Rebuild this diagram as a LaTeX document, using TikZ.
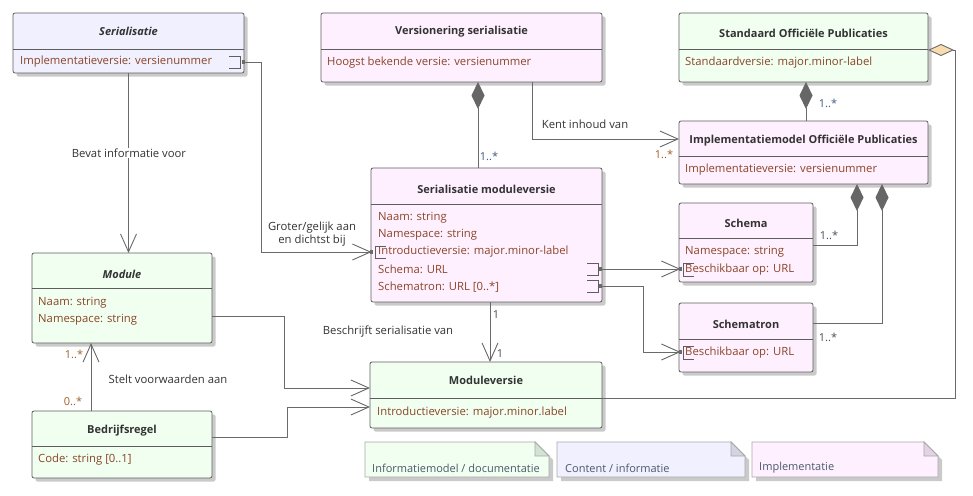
\documentclass[tikz,border=0pt]{standalone}
\usepackage{fontspec}
\setmainfont{Open Sans}
\usetikzlibrary{arrows.meta}
\definecolor{boxline}{HTML}{5E5E5E}
\definecolor{linec}{HTML}{6A6A6A}
\definecolor{shadowc}{HTML}{CACACA}
\definecolor{greenc}{HTML}{F0FFF0}
\definecolor{pinkc}{HTML}{FFF0FF}
\definecolor{lavc}{HTML}{F0F0FF}
\definecolor{titlec}{HTML}{333333}
\definecolor{attrc}{HTML}{8A4527}
\definecolor{lblc}{HTML}{333333}
\definecolor{multb}{HTML}{3D5A80}
\definecolor{multd}{HTML}{44505E}
\definecolor{multo}{HTML}{A0602A}
\definecolor{diamc}{HTML}{666666}
\definecolor{aggfill}{HTML}{F8DCAE}
\definecolor{notel}{HTML}{A8A8A8}
\definecolor{notetext}{HTML}{4A5A6C}
\definecolor{foldg}{HTML}{D3E3D3}
\definecolor{foldl}{HTML}{D3D3E3}
\definecolor{foldp}{HTML}{E3D3E3}
% name, x, y, w, h, divider y, fill
\newcommand\clsbox[7]{%
  \fill[shadowc, rounded corners=2pt] ({#2+3.5},{#3+3.5}) rectangle ++(#4,#5);
  \node[cls, fill=#7, minimum width=#4pt, minimum height=#5pt] (#1) at (#2,#3) {};
  \draw[divl] (#2,#6) -- ({#2+#4},#6);
}
% name, x1, y1, x2, y2, fill, fold fill
\newcommand\notebox[7]{%
  \fill[shadowc] ({#2+4},{#3+4}) -- ({#4-10},{#3+4}) -- ({#4+4},{#3+18}) -- ({#4+4},{#5+4}) -- ({#2+4},{#5+4}) -- cycle;
  \filldraw[fill=#6, draw=notel, line width=0.8pt] (#2,#3) -- ({#4-14},#3) -- (#4,{#3+14}) -- (#4,#5) -- (#2,#5) -- cycle;
  \filldraw[fill=#7, draw=notel, line width=0.8pt] ({#4-14},#3) -- ({#4-14},{#3+14}) -- (#4,{#3+14}) -- cycle;
  \coordinate (#1) at (#2,#3);
}
\begin{document}
\begin{tikzpicture}[x=1pt,y=-1pt,
 cls/.style={draw=boxline, line width=0.8pt, rounded corners=2pt, inner sep=0pt, outer sep=0pt, anchor=north west},
 divl/.style={draw=boxline, line width=0.8pt},
 ttl/.style={font=\fontsize{11}{13}\selectfont\bfseries, text=titlec, inner sep=0pt},
 attr/.style={font=\fontsize{11.3}{13}\selectfont, text=attrc, anchor=west, inner sep=0pt},
 lbl/.style={font=\fontsize{11.3}{13}\selectfont, text=lblc, inner sep=1pt},
 mult/.style={font=\fontsize{11}{13}\selectfont, inner sep=0pt},
 conn/.style={draw=linec, line width=0.9pt},
 openarr/.style={conn, -{Straight Barb[length=18pt, width=16pt]}},
 comp/.style={conn, {Diamond[length=27pt, width=13pt, color=diamc, fill=diamc]}-},
 aggr/.style={conn, {Diamond[length=26pt, width=12pt, fill=aggfill]}-},
 portsq/.style={fill=linec, draw=none, minimum size=3.5pt, inner sep=0pt, outer sep=0pt},
 bracket/.style={draw=boxline, line width=0.7pt},
 ntxt/.style={font=\fontsize{11}{12}\selectfont, text=notetext, anchor=west, inner sep=0pt},
]
\fill[white] (0,0) rectangle (973,495);
\useasboundingbox (0,0) rectangle (973,495);

% ---------- class boxes ----------
\clsbox{ser}{13}{13}{231}{60}{49}{lavc}
\clsbox{vs}{321}{13}{281}{69}{49}{pinkc}
\clsbox{std}{679}{13}{249}{69}{49}{greenc}
\clsbox{impl}{679}{121}{249}{63}{156}{pinkc}
\clsbox{smv}{371}{168}{231}{134}{204}{pinkc}
\clsbox{schema}{679}{203}{134}{79}{238}{pinkc}
\clsbox{schtr}{679}{303}{134}{69}{339}{pinkc}
\clsbox{mod}{32}{253}{180}{90}{288}{greenc}
\clsbox{mv}{370}{362}{232}{66}{398}{greenc}
\clsbox{bed}{32}{411}{180}{67}{446}{greenc}

% ---------- titles ----------
\node[ttl] (tser) at (128.5,31) {\textit{Serialisatie}};
\node[ttl] (tvs) at (461.5,32) {Versionering serialisatie};
\node[ttl] (tstd) at (803.5,33) {Standaard Officiële Publicaties};
\node[ttl] (timpl) at (803.5,141) {Implementatiemodel Officiële Publicaties};
\node[ttl] (tsmv) at (486.5,189) {Serialisatie moduleversie};
\node[ttl] (tschema) at (746,223) {Schema};
\node[ttl] (tschtr) at (746,324) {Schematron};
\node[ttl] (tmod) at (122,274) {\textit{Module}};
\node[ttl] (tmv) at (486,380) {Moduleversie};
\node[ttl] (tbed) at (122,431) {Bedrijfsregel};

% ---------- attributes ----------
\node[attr] (aser) at (20,62) {Implementatieversie: versienummer};
\node[attr] (avs) at (327,63) {Hoogst bekende versie: versienummer};
\node[attr] (astd) at (685,63) {Standaardversie: major.minor-label};
\node[attr] (aimpl) at (685,170) {Implementatieversie: versienummer};
\node[attr] (asmv1) at (378,218) {Naam: string};
\node[attr] (asmv2) at (378,235) {Namespace: string};
\node[attr] (asmv3) at (378,252) {Introductieversie: major.minor-label};
\node[attr] (asmv4) at (378,269) {Schema: URL};
\node[attr] (asmv5) at (378,287) {Schematron: URL [0..*]};
\node[attr] (asch1) at (685,252) {Namespace: string};
\node[attr] (asch2) at (685,270) {Beschikbaar op: URL};
\node[attr] (astr1) at (685,353) {Beschikbaar op: URL};
\node[attr] (amod1) at (38,303) {Naam: string};
\node[attr] (amod2) at (38,320) {Namespace: string};
\node[attr] (amv) at (377,413) {Introductieversie: major.minor.label};
\node[attr] (abed) at (38,460) {Code: string [0..1]};

% ---------- ports ----------
\draw[bracket] (229,56) -- (240,56) -- (240,68) -- (229,68);
\node[portsq] (serP) at (243.5,62) {};
\draw[bracket] (386,246) -- (375,246) -- (375,258) -- (386,258);
\node[portsq] (smvPin) at (371.5,252) {};
\draw[bracket] (587,263) -- (598,263) -- (598,275) -- (587,275);
\node[portsq] (smvPs) at (600.5,269) {};
\draw[bracket] (587,280) -- (598,280) -- (598,292) -- (587,292);
\node[portsq] (smvPt) at (600.5,286) {};
\draw[bracket] (694,263) -- (683,263) -- (683,276) -- (694,276);
\node[portsq] (schP) at (680.5,269) {};
\draw[bracket] (694,346) -- (683,346) -- (683,359) -- (694,359);
\node[portsq] (schtrP) at (680.5,352) {};

% ---------- attachment points ----------
\coordinate (vsD) at (478,82);
\coordinate (vsK) at (532,82);
\coordinate (implK) at (679,139);
\coordinate (stdD) at (806,82);
\coordinate (stdH) at (928,50);
\coordinate (mvH) at (602,398);
\coordinate (implD1) at (857,184);
\coordinate (implD2) at (882,184);
\coordinate (schE) at (813,245);
\coordinate (schtrE) at (813,323);
\coordinate (smvB) at (490,302);
\coordinate (modE) at (212,316);
\coordinate (mvL1) at (370,388);
\coordinate (bedE) at (212,437);
\coordinate (mvL2) at (370,407);
\coordinate (bedT) at (91,411);

% ---------- connectors ----------
\draw[openarr] (ser.south) -- (ser.south |- mod.north);
\draw[openarr] (serP.center) -- ++(18,0) |- (smvPin.center);
\draw[comp] (vsD) -- (vsD |- smv.north);
\draw[openarr] (vsK) |- (implK);
\draw[comp] (stdD) -- (stdD |- impl.north);
\draw[aggr] (stdH) -- ++(27,0) |- (mvH);
\draw[comp] (implD1) |- (schE);
\draw[comp] (implD2) |- (schtrE);
\draw[openarr] (smvPs.center) -- (schP.center);
\draw[openarr] (smvPt.center) -- ++(43,0) |- (schtrP.center);
\draw[openarr] (smvB) -- (smvB |- mv.north);
\draw[openarr] (modE) -- ++(72,0) |- (mvL1);
\draw[openarr] (bedE) -- ++(75,0) |- (mvL2);
\draw[openarr] (bedT) -- (bedT |- mod.south);

% ---------- connector labels ----------
\node[lbl, fill=white] (lbevat) at (129,153) {Bevat informatie voor};
\node[lbl, align=center] (lgroter) at (312,234) {Groter/gelijk aan\\[-0.5pt]en dichtst bij};
\node[lbl] (lkent) at (585,124) {Kent inhoud van};
\node[lbl] (lbeschr) at (388,332) {Beschrijft serialisatie van};
\node[lbl] (lstelt) at (168,379) {Stelt voorwaarden aan};

% ---------- multiplicities ----------
\node[mult, text=multb] (m1) at (489,156) {1..*};
\node[mult, text=multb] (m2) at (828,103) {1..*};
\node[mult, text=multo] (m3) at (664,154) {1..*};
\node[mult, text=multd] (m4) at (829,235) {1..*};
\node[mult, text=multd] (m5) at (828,337) {1..*};
\node[mult, text=multd] (m6) at (496,315) {1};
\node[mult, text=multd] (m7) at (500,354) {1};
\node[mult, text=multo] (m8) at (74,354) {1..*};
\node[mult, text=multo] (m9) at (73,401) {0..*};

% ---------- notes ----------
\notebox{n1}{365}{442}{549}{477}{greenc}{foldg}
\notebox{n2}{557}{442}{745}{477}{lavc}{foldl}
\notebox{n3}{752}{442}{938}{477}{pinkc}{foldp}
\node[ntxt] (tn1) at (372,468) {Informatiemodel / documentatie};
\node[ntxt] (tn2) at (565,468) {Content / informatie};
\node[ntxt] (tn3) at (759,468) {Implementatie};
\end{tikzpicture}
\end{document}
